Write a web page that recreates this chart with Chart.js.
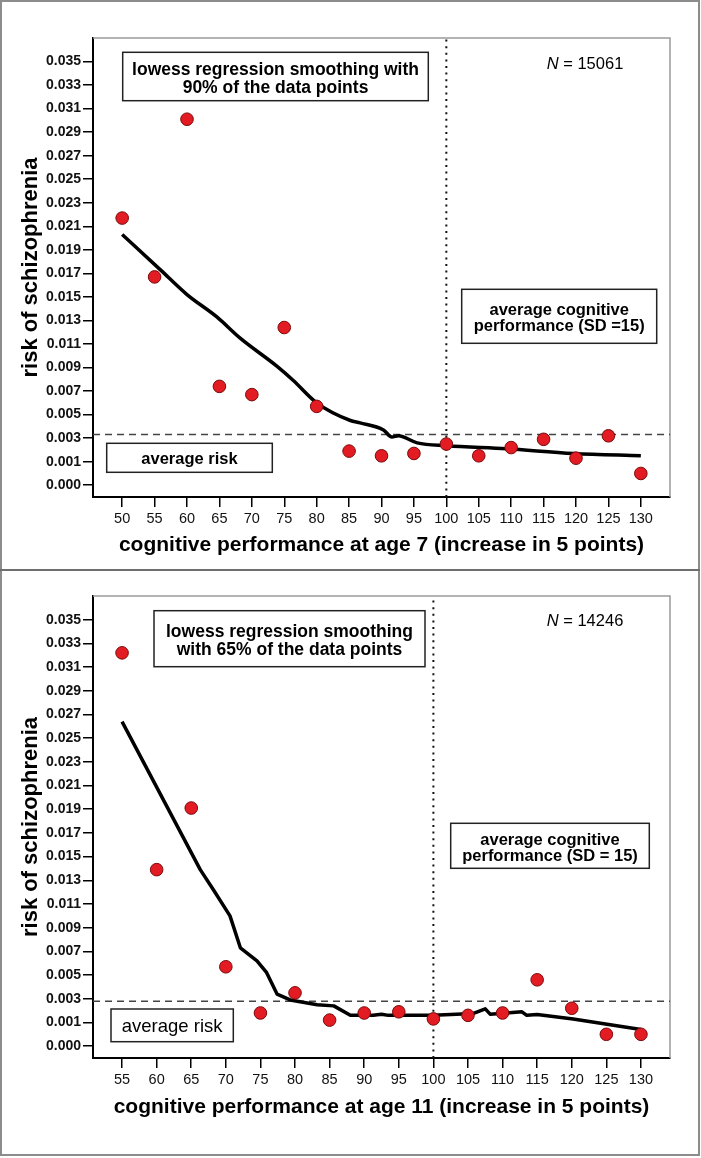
<!DOCTYPE html>
<html>
<head>
<meta charset="utf-8">
<script src="https://cdn.jsdelivr.net/npm/chart.js@4.4.1/dist/chart.umd.min.js"></script>
<style>
   body { margin: 0; background: #fff; }
   #page { position: relative; width: 701px; height: 1158px; }
   #frame { position: absolute; left: 0; top: 0; width: 696px; height: 1152px; border: 2px solid #8c8c8c; }
   #sep { position: absolute; left: 0; top: 569px; width: 700px; height: 2px; background: #6e6e6e; }
   canvas { position: absolute; left: 0; }
   #chart1 { top: 0; }
   #chart2 { top: 570px; }
</style>
</head>
<body>
<div id="page">
   <canvas id="chart1" width="701" height="570"></canvas>
   <canvas id="chart2" width="701" height="587"></canvas>
   <div id="frame"></div>
   <div id="sep"></div>
</div>
<script>
/*=================================>> DATA  <<=================================*/

// cognitive performance at age 7
const age7Scores = [50, 55, 60, 65, 70, 75, 80, 85, 90, 95, 100, 105, 110, 115, 120, 125, 130];
const age7Risk = [0.0217, 0.0167, 0.0301, 0.0074, 0.0067, 0.0124, 0.0057, 0.0019, 0.0015, 0.0017,
                  0.0025, 0.0015, 0.0022, 0.0029, 0.0013, 0.0032, 0.0000];
const age7LowessX = [50, 55.9, 60, 64.6, 68.2, 73.9, 76.4, 80, 85.2, 86.7, 90.3, 91.6, 92.6, 95.5, 100, 109.3, 119.6, 130];
const age7LowessY = [0.0203, 0.0173, 0.0152, 0.0133, 0.0115, 0.0091, 0.0079, 0.0060, 0.0045, 0.0043,
                     0.0037, 0.0031, 0.0032, 0.0026, 0.00236, 0.0021, 0.0017, 0.0015];
const age7AvgRisk = 0.0033;
const age7N = "15061";

// cognitive performance at age 11
const age11Scores = [55, 60, 65, 70, 75, 80, 85, 90, 95, 100, 105, 110, 115, 120, 125, 130];
const age11Risk = [0.0322, 0.0139, 0.0191, 0.0057, 0.0018, 0.0035, 0.0012, 0.0018, 0.0019, 0.0013,
                   0.0016, 0.0018, 0.0046, 0.0022, 0.0000, 0.0000];
const age11LowessX = [55, 66.3, 68.2, 70.6, 72.1, 74.5, 75.9, 77.4, 79.3, 83.2, 85.6, 88, 91.3, 92.5, 93.5,
                      100, 105.8, 107.5, 108.2, 112.8, 113.5, 115, 120.2, 130];
const age11LowessY = [0.0264, 0.0139, 0.0122, 0.0100, 0.0073, 0.0062, 0.0052, 0.0034, 0.0029, 0.0025, 0.0024,
                      0.0016, 0.0016, 0.0017, 0.0016, 0.0016, 0.00176, 0.00215, 0.0017, 0.0019, 0.0016,
                      0.00167, 0.0013, 0.0004];
const age11AvgRisk = 0.0028;
const age11N = "14246";

const avgScore = 100;
const yMin = -0.002, yMax = 0.037;
const yTickValues = [-0.001, 0.001, 0.003, 0.005, 0.007, 0.009, 0.011, 0.013, 0.015, 0.017,
                     0.019, 0.021, 0.023, 0.025, 0.027, 0.029, 0.031, 0.033, 0.035];
const yTickLabels = ["0.000", "0.001", "0.003", "0.005", "0.007", "0.009", "0.011", "0.013", "0.015", "0.017",
                     "0.019", "0.021", "0.023", "0.025", "0.027", "0.029", "0.031", "0.033", "0.035"];
const age7XTicks = [50, 55, 60, 65, 70, 75, 80, 85, 90, 95, 100, 105, 110, 115, 120, 125, 130];
const age11XTicks = [55, 60, 65, 70, 75, 80, 85, 90, 95, 100, 105, 110, 115, 120, 125, 130];

/*=================================>> CHARTS  <<=================================*/

const FONT = "'Liberation Sans', Arial, sans-serif";

const panelDecor = {
   id: 'panelDecor',
   beforeDatasetsDraw(chart, args, opts) {
      const ctx = chart.ctx;
      const a = chart.chartArea;
      ctx.save();
      ctx.strokeStyle = '#9a9a9a';
      ctx.lineWidth = 1.5;
      ctx.beginPath();
      ctx.moveTo(a.left, a.top);
      ctx.lineTo(a.right, a.top);
      ctx.lineTo(a.right, a.bottom);
      ctx.stroke();
      ctx.restore();
   },
   afterDraw(chart, args, opts) {
      const ctx = chart.ctx;
      ctx.save();
      opts.boxes.forEach(b => {
         ctx.fillStyle = '#fff';
         ctx.fillRect(b.x1, b.y1, b.x2 - b.x1, b.y2 - b.y1);
         ctx.strokeStyle = '#222';
         ctx.lineWidth = 1.5;
         ctx.strokeRect(b.x1, b.y1, b.x2 - b.x1, b.y2 - b.y1);
         ctx.fillStyle = '#000';
         ctx.font = b.font;
         ctx.textAlign = 'center';
         ctx.textBaseline = 'middle';
         b.lines.forEach((line, i) => {
            ctx.fillText(line, (b.x1 + b.x2) / 2, b.textY + i * b.gap);
         });
      });
      // N = ...
      ctx.textAlign = 'left';
      ctx.textBaseline = 'middle';
      ctx.fillStyle = '#000';
      ctx.font = `italic 16.5px ${FONT}`;
      ctx.fillText('N', opts.nX, opts.nY);
      const w = ctx.measureText('N').width;
      ctx.font = `16.5px ${FONT}`;
      ctx.fillText(` = ${opts.nText}`, opts.nX + w, opts.nY);
      ctx.restore();
   }
};

function drawPanel(canva, d) {
   const points = d.scores.map((s, i) => ({ x: s, y: d.risk[i] }));
   const lowess = d.lowessX.map((s, i) => ({ x: s, y: d.lowessY[i] }));
   const config = {
      type: 'scatter',
      data: {
         datasets: [
         {
            label: 'observed risk',
            data: points,
            order: 0,
            pointRadius: 6.3,
            pointBackgroundColor: '#e31b23',
            pointBorderColor: '#7a0a0a',
            pointBorderWidth: 1,
         },
         {
            label: 'lowess',
            data: lowess,
            order: 1,
            showLine: true,
            pointRadius: 0,
            borderColor: '#000',
            borderWidth: 3.5,
            cubicInterpolationMode: d.smooth ? 'monotone' : 'default',
            tension: 0,
            borderJoinStyle: 'round',
         },
         {
            label: 'average risk',
            data: [{ x: d.xMin, y: d.avgRisk }, { x: d.xMax, y: d.avgRisk }],
            order: 2,
            showLine: true,
            pointRadius: 0,
            borderColor: '#444',
            borderWidth: 1.5,
            borderDash: [7, 5],
         },
         {
            label: 'average cognitive performance',
            data: [{ x: avgScore, y: yMin }, { x: avgScore, y: yMax }],
            order: 3,
            showLine: true,
            pointRadius: 0,
            borderColor: '#111',
            borderWidth: 2,
            borderDash: [2, 4.6],
         },
      ]},
      options: {
         responsive: false,
         animation: false,
         layout: {
            padding: { left: 0, right: 31, top: d.padTop, bottom: 0 }
         },
         plugins: {
            legend: { display: false },
            tooltip: { enabled: false },
            panelDecor: d.decor,
         },
         scales: {
            x: {
               type: 'linear',
               min: d.xMin,
               max: d.xMax,
               afterBuildTicks: s => { s.ticks = d.xTicks.map(v => ({ value: v })); },
               afterFit: s => { s.height = d.xHeight; },
               grid: { drawOnChartArea: false, drawTicks: true, tickLength: 10, color: '#000', lineWidth: 1.5 },
               border: { display: true, color: '#000', width: 2 },
               ticks: {
                  font: { family: FONT, size: 14.5 },
                  color: '#111',
                  padding: 3,
                  maxRotation: 0,
                  autoSkip: false,
                  callback: v => String(v),
               },
               title: {
                  display: true,
                  text: d.xTitle,
                  color: '#000',
                  font: { family: FONT, size: 21, weight: 'bold' },
                  padding: { top: 0, bottom: d.xTitlePad },
               },
            },
            y: {
               type: 'linear',
               min: yMin,
               max: yMax,
               afterBuildTicks: s => { s.ticks = yTickValues.map(v => ({ value: v })); },
               afterFit: s => { s.width = 93; },
               grid: { drawOnChartArea: false, drawTicks: true, tickLength: 10, color: '#000', lineWidth: 1.5 },
               border: { display: true, color: '#000', width: 2 },
               ticks: {
                  font: { family: FONT, size: 14, weight: 'bold' },
                  color: '#111',
                  padding: 2,
                  autoSkip: false,
                  callback: (v, i) => yTickLabels[i],
               },
               title: {
                  display: true,
                  text: 'risk of schizophrenia',
                  color: '#000',
                  font: { family: FONT, size: 22, weight: 'bold' },
                  padding: { top: 18, bottom: 0 },
               },
            },
         },
      },
      plugins: [panelDecor],
   };
   return new Chart(canva, config);
}

drawPanel(document.querySelector('#chart1'), {
   scores: age7Scores, risk: age7Risk, lowessX: age7LowessX, lowessY: age7LowessY,
   avgRisk: age7AvgRisk, xMin: 45.5, xMax: 134.5, xTicks: age7XTicks, smooth: true,
   xTitle: 'cognitive performance at age 7 (increase in 5 points)',
   padTop: 38, xHeight: 73, xTitlePad: 12.6,
   decor: {
      nText: age7N, nX: 546.7, nY: 64.3,
      boxes: [
         { x1: 122.7, y1: 52.3, x2: 428.3, y2: 100.7, textY: 70, gap: 18,
           font: `bold 17.5px ${FONT}`, lines: ['lowess regression smoothing with', '90% of the data points'] },
         { x1: 461.7, y1: 289.3, x2: 656.7, y2: 343.3, textY: 310, gap: 16.7,
           font: `bold 16.5px ${FONT}`, lines: ['average cognitive', 'performance (SD =15)'] },
         { x1: 106.7, y1: 443.3, x2: 272.3, y2: 472.3, textY: 459, gap: 0,
           font: `bold 16.5px ${FONT}`, lines: ['average risk'] },
      ],
   },
});

drawPanel(document.querySelector('#chart2'), {
   scores: age11Scores, risk: age11Risk, lowessX: age11LowessX, lowessY: age11LowessY,
   avgRisk: age11AvgRisk, xMin: 50.8, xMax: 134.2, xTicks: age11XTicks, smooth: false,
   xTitle: 'cognitive performance at age 11 (increase in 5 points)',
   padTop: 26, xHeight: 99, xTitlePad: 37.3,
   decor: {
      nText: age11N, nX: 546.7, nY: 51.7,
      boxes: [
         { x1: 154, y1: 40.7, x2: 425, y2: 96.7, textY: 61.7, gap: 18.3,
           font: `bold 17.5px ${FONT}`, lines: ['lowess regression smoothing', 'with 65% of the data points'] },
         { x1: 450.7, y1: 253.3, x2: 649.3, y2: 298.3, textY: 270, gap: 16.7,
           font: `bold 16.5px ${FONT}`, lines: ['average cognitive', 'performance (SD = 15)'] },
         { x1: 111, y1: 439, x2: 233.3, y2: 471.7, textY: 456.7, gap: 0,
           font: `18.5px ${FONT}`, lines: ['average risk'] },
      ],
   },
});
</script>
</body>
</html>
